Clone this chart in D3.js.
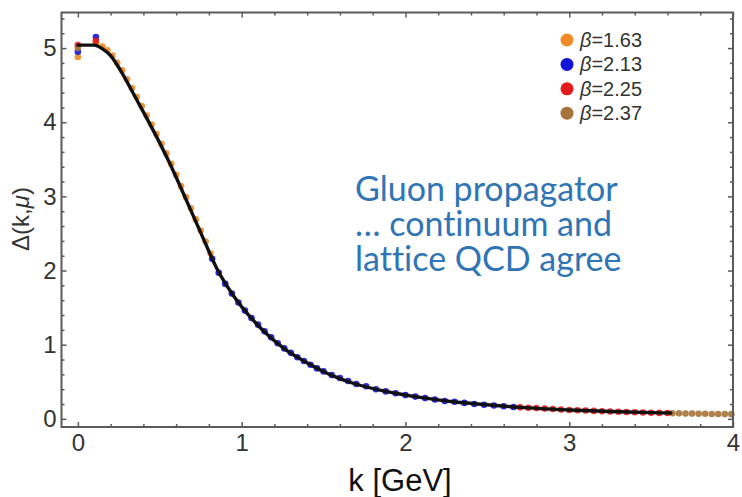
<!DOCTYPE html>
<html>
<head>
<meta charset="utf-8">
<script src="https://cdn.jsdelivr.net/npm/d3@7"></script>
<style>
  html, body { margin: 0; padding: 0; background: #fff; }
  svg { display: block; }
  text { font-variant-ligatures: none; font-feature-settings: "liga" 0; }
</style>
</head>
<body>
<svg id="chart" width="742" height="497"></svg>
<script>
// Continuum fit of the gluon propagator Δ(k, μ)
const fitK = [0.00, 0.05, 0.10, 0.15, 0.20, 0.26, 0.36, 0.46, 0.56, 0.66, 0.77, 0.85, 0.95, 1.07, 1.17, 1.27, 1.38, 1.48, 1.58, 1.68, 1.88, 2.09, 2.29, 2.50, 2.70, 3.00, 3.30, 3.62];
const fitD = [5.04, 5.04, 5.04, 4.99, 4.90, 4.70, 4.30, 3.89, 3.45, 2.96, 2.41, 2.02, 1.66, 1.33, 1.11, 0.93, 0.78, 0.66, 0.56, 0.48, 0.37, 0.29, 0.23, 0.19, 0.155, 0.12, 0.095, 0.078];

// Lattice data, one pair of arrays per β
const k163 = [0.00, 0.11, 0.15, 0.18, 0.21, 0.24, 0.27, 0.30, 0.33, 0.36, 0.39, 0.42, 0.45, 0.48, 0.51, 0.54, 0.57, 0.60, 0.63, 0.66, 0.69, 0.72, 0.75, 0.78, 0.81];
const d163 = [4.88, 5.07, 5.02, 4.97, 4.90, 4.80, 4.70, 4.58, 4.46, 4.34, 4.22, 4.09, 3.97, 3.84, 3.71, 3.58, 3.44, 3.29, 3.14, 2.99, 2.84, 2.69, 2.54, 2.39, 2.23];

const k213 = [0.00, 0.11, 0.82, 0.86, 0.90, 0.94, 0.98, 1.02, 1.06, 1.10, 1.14, 1.18, 1.22, 1.26, 1.30, 1.34, 1.38, 1.42, 1.46, 1.50, 1.55, 1.60, 1.65, 1.70, 1.76, 1.82, 1.88, 1.94, 2.00, 2.06, 2.12, 2.18, 2.24, 2.30, 2.36, 2.42, 2.48, 2.54, 2.60, 2.66];
const d213 = [4.95, 5.15, 2.16, 1.97, 1.82, 1.69, 1.57, 1.46, 1.36, 1.27, 1.18, 1.10, 1.02, 0.95, 0.89, 0.83, 0.78, 0.73, 0.68, 0.64, 0.59, 0.55, 0.51, 0.47, 0.44, 0.40, 0.37, 0.345, 0.32, 0.30, 0.28, 0.26, 0.24, 0.23, 0.215, 0.20, 0.19, 0.18, 0.17, 0.16];

const k225 = [0.00, 0.11, 2.70, 2.75, 2.80, 2.85, 2.90, 2.95, 3.00, 3.05, 3.10, 3.15, 3.20, 3.25, 3.30, 3.35, 3.40, 3.45, 3.50, 3.55, 3.60];
const d225 = [5.04, 5.10, 0.155, 0.15, 0.145, 0.14, 0.133, 0.127, 0.12, 0.116, 0.112, 0.107, 0.103, 0.099, 0.095, 0.092, 0.089, 0.086, 0.083, 0.080, 0.078];

const k237 = [0.00, 3.63, 3.67, 3.71, 3.75, 3.79, 3.83, 3.87, 3.91, 3.95, 3.99];
const d237 = [5.00, 0.076, 0.074, 0.072, 0.071, 0.069, 0.068, 0.066, 0.065, 0.064, 0.063];

const betaLabels = ["1.63", "2.13", "2.25", "2.37"];
const betaColors = ["#F08A24", "#1414D8", "#E41B1B", "#A6743A"];

const xMajor = [0, 1, 2, 3, 4];
const yMajor = [0, 1, 2, 3, 4, 5];

const titleLines = ["Gluon propagator", "\u2026 continuum and", "lattice QCD agree"];

// ---------------------------------------------------------------
const svg = d3.select("#chart");
const frame = { left: 61.5, right: 733, top: 12.5, bottom: 427 };

const x = d3.scaleLinear().domain([-0.1, 4.0]).range([frame.left, frame.right]);
const y = d3.scaleLinear().domain([-0.11, 5.48]).range([frame.bottom, frame.top]);

const xMinor = d3.range(0, 4.001, 0.2).map(v => +v.toFixed(1)).filter(v => !xMajor.includes(v));
const yMinor = d3.range(0, 5.401, 0.2).map(v => +v.toFixed(1)).filter(v => !yMajor.includes(v));

const frameColor = "#5a5a5a";
const labelFont = "'Liberation Sans', Arial, sans-serif";

// frame ticks (inward, on all four sides)
function styleAxis(g) {
  g.select(".domain").remove();
  g.selectAll(".tick line").attr("stroke", frameColor).attr("stroke-width", 1.5);
  g.selectAll(".tick text").attr("fill", "#333").attr("font-family", labelFont).attr("font-size", 24);
}

svg.append("g").attr("transform", `translate(0,${frame.bottom})`)
  .call(d3.axisBottom(x).tickValues(xMajor).tickSizeInner(-5).tickSizeOuter(0).tickPadding(7).tickFormat(d3.format("d")))
  .call(styleAxis);
svg.append("g").attr("transform", `translate(0,${frame.bottom})`)
  .call(d3.axisBottom(x).tickValues(xMinor).tickSizeInner(-3).tickSizeOuter(0).tickFormat(""))
  .call(styleAxis);
svg.append("g").attr("transform", `translate(0,${frame.top})`)
  .call(d3.axisTop(x).tickValues(xMajor).tickSizeInner(-5).tickSizeOuter(0).tickFormat(""))
  .call(styleAxis);
svg.append("g").attr("transform", `translate(0,${frame.top})`)
  .call(d3.axisTop(x).tickValues(xMinor).tickSizeInner(-3).tickSizeOuter(0).tickFormat(""))
  .call(styleAxis);

svg.append("g").attr("transform", `translate(${frame.left},0)`)
  .call(d3.axisLeft(y).tickValues(yMajor).tickSizeInner(-5).tickSizeOuter(0).tickPadding(5).tickFormat(d3.format("d")))
  .call(styleAxis);
svg.append("g").attr("transform", `translate(${frame.left},0)`)
  .call(d3.axisLeft(y).tickValues(yMinor).tickSizeInner(-3).tickSizeOuter(0).tickFormat(""))
  .call(styleAxis);
svg.append("g").attr("transform", `translate(${frame.right},0)`)
  .call(d3.axisRight(y).tickValues(yMajor).tickSizeInner(-5).tickSizeOuter(0).tickFormat(""))
  .call(styleAxis);
svg.append("g").attr("transform", `translate(${frame.right},0)`)
  .call(d3.axisRight(y).tickValues(yMinor).tickSizeInner(-3).tickSizeOuter(0).tickFormat(""))
  .call(styleAxis);

// lattice points
const series = [
  { k: k163, d: d163 },
  { k: k213, d: d213 },
  { k: k225, d: d225 },
  { k: k237, d: d237 }
];
const pts = svg.append("g");
series.forEach((s, i) => {
  pts.selectAll(null)
    .data(s.k.map((k, j) => [k, s.d[j]]))
    .join("circle")
    .attr("cx", p => x(p[0]))
    .attr("cy", p => y(p[1]))
    .attr("r", 3.3)
    .attr("fill", betaColors[i])
    .attr("opacity", 0.9);
});

// continuum curve
const line = d3.line()
  .x((d, i) => x(fitK[i]))
  .y((d, i) => y(fitD[i]))
  .curve(d3.curveMonotoneX);
svg.append("path")
  .datum(fitK)
  .attr("d", line)
  .attr("fill", "none")
  .attr("stroke", "#111")
  .attr("stroke-width", 3.4)
  .attr("stroke-linejoin", "round")
  .attr("stroke-linecap", "round");

// frame
svg.append("rect")
  .attr("x", frame.left).attr("y", frame.top)
  .attr("width", frame.right - frame.left).attr("height", frame.bottom - frame.top)
  .attr("fill", "none").attr("stroke", frameColor).attr("stroke-width", 2);

// legend
const legend = svg.append("g").attr("transform", "translate(567,40)");
betaLabels.forEach((b, i) => {
  const row = legend.append("g").attr("transform", `translate(0,${i * 24.4})`);
  row.append("circle").attr("r", 6.5).attr("fill", betaColors[i]);
  const t = row.append("text").attr("x", 13).attr("y", 7)
    .attr("font-family", labelFont).attr("font-size", 20).attr("fill", "#333");
  t.append("tspan").attr("font-style", "italic").text("\u03B2");
  t.append("tspan").text("=" + b);
});

// annotation, one text per line
titleLines.forEach((s, i) => {
  svg.append("text")
    .attr("x", 355).attr("y", 201 + i * 35)
    .attr("font-family", "Lato, 'Open Sans', sans-serif")
    .attr("font-size", 34)
    .attr("fill", "#2F75B5")
    .text(s);
});

// axis titles
svg.append("text")
  .attr("x", 400).attr("y", 491)
  .attr("text-anchor", "middle")
  .attr("font-family", labelFont).attr("font-size", 31).attr("fill", "#111")
  .text("k [GeV]");

const yt = svg.append("text")
  .attr("transform", "translate(29,219) rotate(-90)")
  .attr("text-anchor", "middle")
  .attr("font-family", labelFont).attr("font-size", 24).attr("fill", "#333");
yt.append("tspan").text("\u0394(k,");
yt.append("tspan").attr("font-style", "italic").text("\u03BC");
yt.append("tspan").text(")");
</script>
</body>
</html>
